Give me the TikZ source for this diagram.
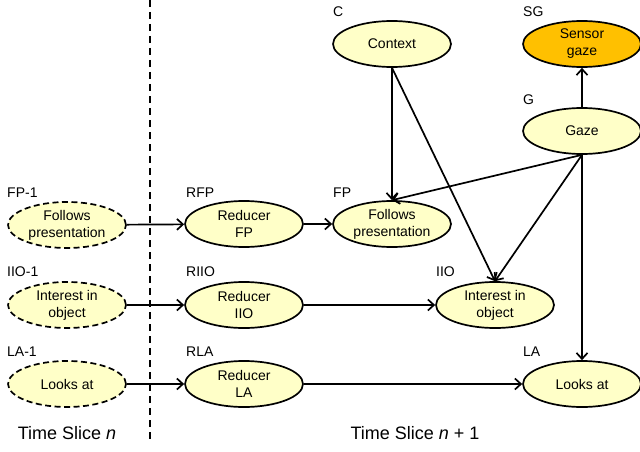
\documentclass[tikz,border=0pt]{standalone}
\usepackage{fontspec}
\setmainfont{Liberation Sans}
\usetikzlibrary{shapes.geometric,arrows.meta}
\definecolor{nodeyellow}{HTML}{FFFFC8}
\definecolor{sensororange}{HTML}{FFC000}
\tikzset{
  var/.style={ellipse, draw=black, line width=1.7pt, fill=nodeyellow, minimum width=118pt, minimum height=46pt, inner sep=0pt, align=center, font=\fontsize{14}{17}\selectfont},
  prevvar/.style={var, dash pattern=on 6pt off 3.5pt},
  sensor/.style={var, fill=sensororange},
  tag/.style={anchor=west, inner sep=0pt, font=\fontsize{14}{17}\selectfont},
  slice/.style={inner sep=0pt, font=\fontsize{18}{21}\selectfont},
  conn/.style={line width=1.7pt, -{Straight Barb[length=6pt,width=11pt,line width=1.7pt]}},
}
\begin{document}
\begin{tikzpicture}[x=1pt,y=-1pt]
\useasboundingbox (0,0) rectangle (640,452);
% nodes
\node[var] (C) at (392,44) {Context};
\node[sensor] (SG) at (582,44) {Sensor\\gaze};
\node[var] (G) at (582,131) {Gaze};
\node[prevvar] (FP1) at (67,225) {Follows\\presentation};
\node[var] (RFP) at (244,224) {Reducer\\FP};
\node[var] (FP) at (392,224) {Follows\\presentation};
\node[prevvar] (IIO1) at (67,305) {Interest in\\object};
\node[var] (RIIO) at (244,305) {Reducer\\IIO};
\node[var] (IIO) at (495,305) {Interest in\\object};
\node[prevvar] (LA1) at (67,384) {Looks at};
\node[var] (RLA) at (244,384) {Reducer\\LA};
\node[var] (LA) at (582,384) {Looks at};
% tags
\node[tag] (tC) at (333,12) {C};
\node[tag] (tSG) at (523,12) {SG};
\node[tag] (tG) at (523,100) {G};
\node[tag] (tFP1) at (7,193) {FP-1};
\node[tag] (tRFP) at (186,193) {RFP};
\node[tag] (tFP) at (333,193) {FP};
\node[tag] (tIIO1) at (7,272) {IIO-1};
\node[tag] (tRIIO) at (186,272) {RIIO};
\node[tag] (tIIO) at (436,272) {IIO};
\node[tag] (tLA1) at (7,352) {LA-1};
\node[tag] (tRLA) at (186,352) {RLA};
\node[tag] (tLA) at (523,352) {LA};
% time slices
\coordinate (divtop) at (150,0);
\coordinate (divbot) at (150,440);
\draw[line width=1.7pt, dash pattern=on 7pt off 5pt] (divtop) -- (divbot);
\node[slice] (ts1) at (67,433) {Time Slice \textit{n}};
\node[slice] (ts2) at (415,433) {Time Slice \textit{n} + 1};
% connectors
\draw[conn] (FP1) -- (RFP);
\draw[conn] (RFP) -- (FP);
\draw[conn] (IIO1) -- (RIIO);
\draw[conn] (RIIO) -- (IIO);
\draw[conn] (LA1) -- (RLA);
\draw[conn] (RLA) -- (LA);
\draw[conn] (C.south) -- (FP.north);
\draw[conn] (C.south) -- (IIO.north);
\draw[conn] (G.south) -- (FP.north);
\draw[conn] (G.south) -- (IIO.north);
\draw[conn] (G.south) -- (LA.north);
\draw[conn] (G.north) -- (SG.south);
\end{tikzpicture}
\end{document}
